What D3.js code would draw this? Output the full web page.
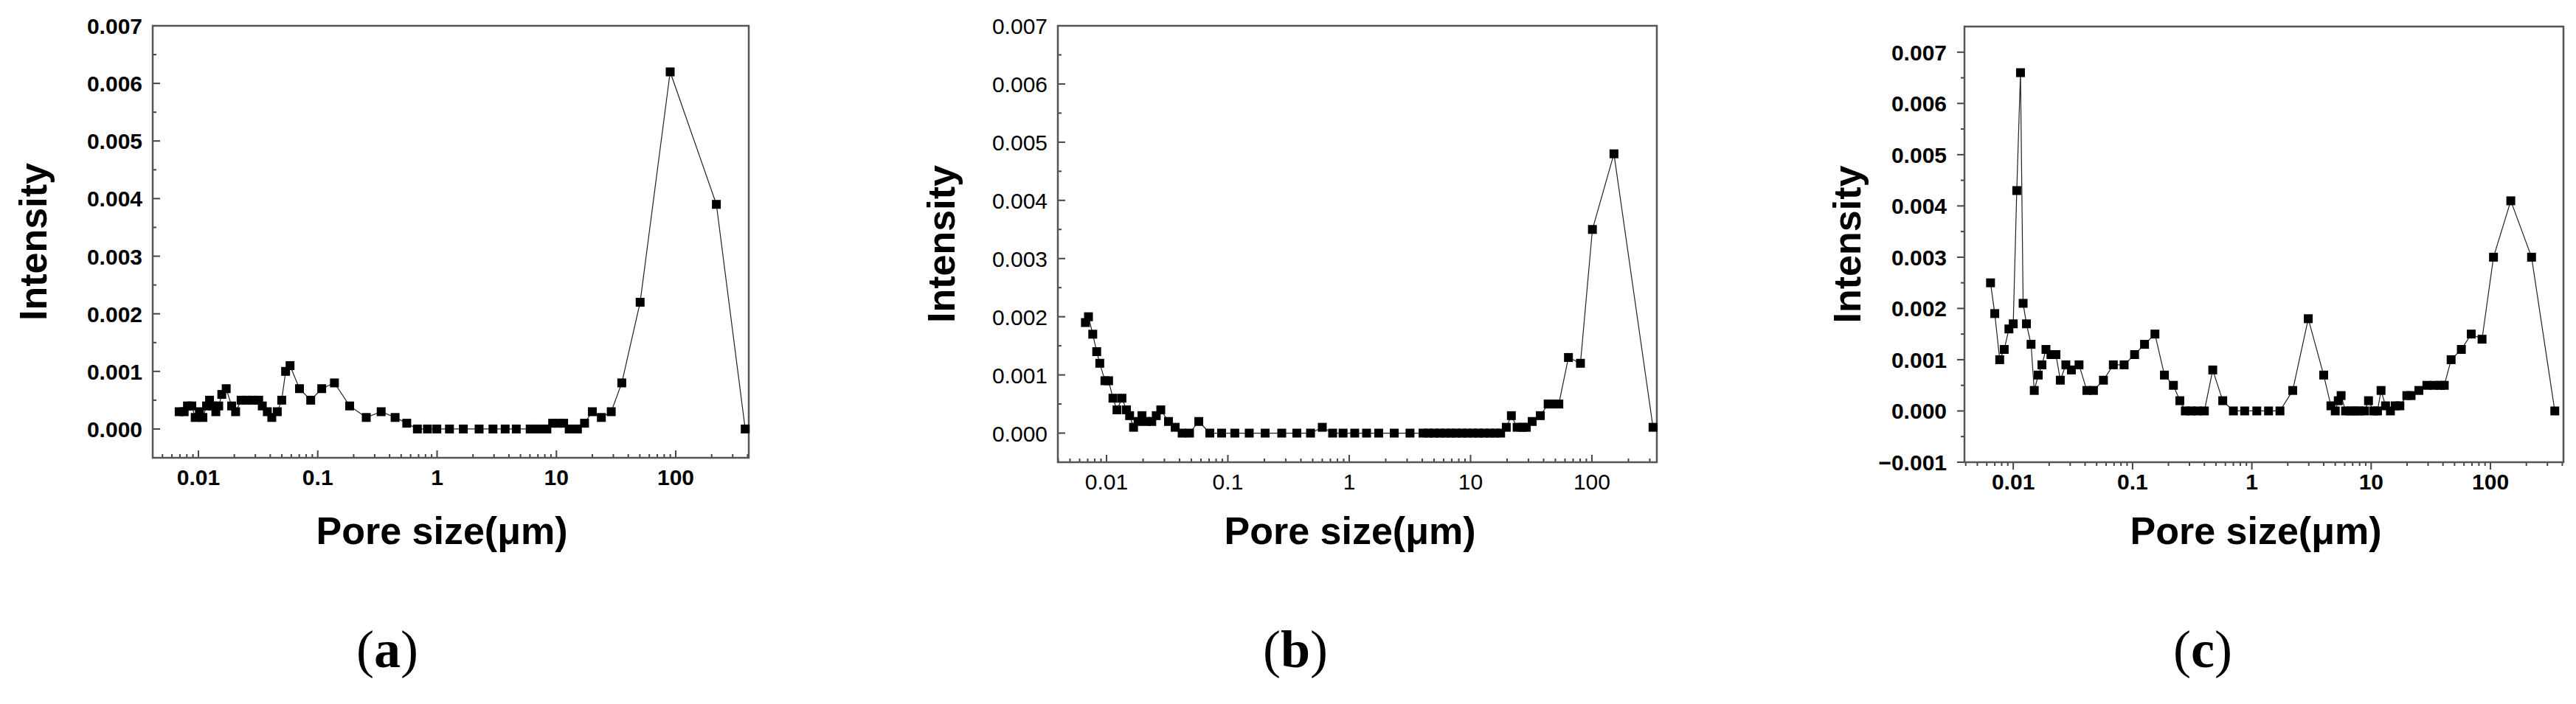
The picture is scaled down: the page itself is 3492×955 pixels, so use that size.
<!DOCTYPE html>
<html>
<head>
<meta charset="utf-8">
<script src="https://cdn.jsdelivr.net/npm/d3@7"></script>
<style>
  body { margin: 0; background: #fff; }
  svg { display: block; }
</style>
</head>
<body>
<svg id="chart" width="3492" height="955"></svg>
<script>
// pore size (um) and intensity
const sizesA = [0.0069,0.0076,0.0081,0.0088,0.0094,0.0102,0.0109,0.0117,0.0124,0.0132,0.014,0.0148,0.0157,0.0171,0.019,0.0205,0.0228,0.0255,0.0285,0.032,0.0343,0.0378,0.0412,0.0458,0.0499,0.0538,0.0586,0.0703,0.0873,0.108,0.138,0.185,0.255,0.34,0.445,0.557,0.684,0.83,0.995,1.27,1.66,2.25,2.94,3.72,4.61,6.03,7.08,8.32,9.3,10.3,11.5,12.8,15,17.2,20,23.8,28.8,35.3,50.3,89.8,219,382]
const intensA = [0.0003,0.0003,0.0004,0.0004,0.0002,0.0003,0.0002,0.0004,0.0005,0.0004,0.0003,0.0004,0.0006,0.0007,0.0004,0.0003,0.0005,0.0005,0.0005,0.0005,0.0004,0.0003,0.0002,0.0003,0.0005,0.001,0.0011,0.0007,0.0005,0.0007,0.0008,0.0004,0.0002,0.0003,0.0002,0.0001,0,0,0,0,0,0,0,0,0,0,0,0,0.0001,0.0001,0.0001,0,0,0.0001,0.0003,0.0002,0.0003,0.0008,0.0022,0.0062,0.0039,0]

const sizesB = [0.0067,0.0071,0.0077,0.0083,0.0088,0.0097,0.0104,0.0113,0.0122,0.0134,0.0146,0.0155,0.0167,0.0182,0.0196,0.0213,0.0236,0.0257,0.028,0.0324,0.0368,0.042,0.0483,0.0576,0.071,0.0888,0.114,0.15,0.203,0.278,0.37,0.48,0.6,0.73,0.89,1.11,1.39,1.75,2.35,3.17,4.06,4.52,5.0,5.55,6.2,6.9,7.6,8.5,9.4,10.5,11.6,12.9,14.4,16.0,17.7,19.7,21.7,24.2,26.8,28.8,32.2,37.6,43.6,48.1,53.4,64.1,80.5,101,152,319]
const intensB = [0.0019,0.002,0.0017,0.0014,0.0012,0.0009,0.0009,0.0006,0.0004,0.0006,0.0004,0.0003,0.0001,0.0002,0.0003,0.0002,0.0002,0.0003,0.0004,0.0002,0.0001,0,0,0.0002,0,0,0,0,0,0,0,0,0.0001,0,0,0,0,0,0,0,0,0,0,0,0,0,0,0,0,0,0,0,0,0,0,0.0001,0.0003,0.0001,0.0001,0.0001,0.0002,0.0003,0.0005,0.0005,0.0005,0.0013,0.0012,0.0035,0.0048,0.0001]

const sizesC = [0.00645,0.007,0.0077,0.0084,0.0092,0.01,0.0107,0.0115,0.0121,0.0129,0.0141,0.015,0.0162,0.0174,0.0188,0.0207,0.0228,0.0248,0.0276,0.0307,0.0356,0.0414,0.047,0.057,0.069,0.085,0.104,0.126,0.154,0.185,0.22,0.249,0.277,0.31,0.35,0.4,0.47,0.57,0.7,0.87,1.1,1.38,1.72,2.2,2.97,4.0,4.6,5.0,5.3,5.6,6.1,6.7,7.3,7.9,8.8,9.5,10.5,11.3,12.1,13.2,14.5,15.9,17.4,19.9,21.6,25.1,29.3,33.6,38,41,46.8,57,69,85,106,148,221,346]
const intensC = [0.0025,0.0019,0.001,0.0012,0.0016,0.0017,0.0043,0.0066,0.0021,0.0017,0.0013,0.0004,0.0007,0.0009,0.0012,0.0011,0.0011,0.0006,0.0009,0.0008,0.0009,0.0004,0.0004,0.0006,0.0009,0.0009,0.0011,0.0013,0.0015,0.0007,0.0005,0.0002,0,0,0,0,0.0008,0.0002,0,0,0,0,0,0.0004,0.0018,0.0007,0.0001,0,0.0002,0.0003,0,0,0,0,0,0.0002,0,0,0.0004,0.0001,0,0.0001,0.0001,0.0003,0.0003,0.0004,0.0005,0.0005,0.0005,0.0005,0.001,0.0012,0.0015,0.0014,0.003,0.0041,0.003,0]

const xTicks = [0.01, 0.1, 1, 10, 100]
const yTicksAB = [0, 0.001, 0.002, 0.003, 0.004, 0.005, 0.006, 0.007]
const yTicksC = [-0.001, 0, 0.001, 0.002, 0.003, 0.004, 0.005, 0.006, 0.007]
const panelLabels = ['a', 'b', 'c']

const panels = [
  { sizes: sizesA, vals: intensA, box: [207, 35, 1015, 621], xDom: [0.00414, 409], yDom: [-0.0005, 0.007], yTicks: yTicksAB, bold: true, inward: true, yTitleX: 45, xTitleX: 599, tagX: 525 },
  { sizes: sizesB, vals: intensB, box: [1434, 35, 2246, 627], xDom: [0.00397, 343], yDom: [-0.0005, 0.007], yTicks: yTicksAB, bold: false, inward: true, yTitleX: 1276, xTitleX: 1830, tagX: 1756 },
  { sizes: sizesC, vals: intensC, box: [2663, 36, 3475, 627], xDom: [0.0039, 409], yDom: [-0.001, 0.0075], yTicks: yTicksC, bold: true, inward: false, yTitleX: 2504, xTitleX: 3058, tagX: 2986 }
]

const svg = d3.select('#chart')
const font = 'Liberation Sans, Arial, sans-serif'

panels.forEach((p, i) => {
  const [x0, y0, x1, y1] = p.box
  const x = d3.scaleLog().domain(p.xDom).range([x0, x1])
  const y = d3.scaleLinear().domain(p.yDom).range([y1, y0])
  const g = svg.append('g')
  const dir = p.inward ? 1 : -1

  // minor ticks
  const minorX = []
  for (let e = -3; e <= 2; e++) for (let k = 2; k <= 9; k++) {
    const v = k * Math.pow(10, e)
    if (v > p.xDom[0] && v < p.xDom[1]) minorX.push(v)
  }
  g.selectAll('.mx').data(minorX).join('line')
    .attr('x1', d => x(d)).attr('x2', d => x(d))
    .attr('y1', y1).attr('y2', y1 - dir * 5)
    .attr('stroke', '#444').attr('stroke-width', 2)
  g.selectAll('.Mx').data(xTicks).join('line')
    .attr('x1', d => x(d)).attr('x2', d => x(d))
    .attr('y1', y1).attr('y2', y1 - dir * 10)
    .attr('stroke', '#444').attr('stroke-width', 2)
  const minorY = p.yTicks.slice(0, -1).map(d => d + 0.0005)
  g.selectAll('.my').data(minorY).join('line')
    .attr('x1', x0).attr('x2', x0 + dir * 5)
    .attr('y1', d => y(d)).attr('y2', d => y(d))
    .attr('stroke', '#444').attr('stroke-width', 2)
  g.selectAll('.My').data(p.yTicks).join('line')
    .attr('x1', x0).attr('x2', x0 + dir * 10)
    .attr('y1', d => y(d)).attr('y2', d => y(d))
    .attr('stroke', '#444').attr('stroke-width', 2)

  // frame
  g.append('rect').attr('x', x0).attr('y', y0)
    .attr('width', x1 - x0).attr('height', y1 - y0)
    .attr('fill', 'none').attr('stroke', '#555').attr('stroke-width', 2.5)

  // tick labels
  g.selectAll('.xl').data(xTicks).join('text')
    .attr('x', d => x(d)).attr('y', y1 + 37)
    .attr('text-anchor', 'middle')
    .attr('font-family', font).attr('font-size', 30)
    .attr('font-weight', p.bold ? 'bold' : 'normal')
    .text(d => d3.format('~g')(d))
  g.selectAll('.yl').data(p.yTicks).join('text')
    .attr('x', x0 - (p.inward ? 14 : 24)).attr('y', d => y(d) + 11)
    .attr('text-anchor', 'end')
    .attr('font-family', font).attr('font-size', 30)
    .attr('font-weight', p.bold ? 'bold' : 'normal')
    .text(d => d3.format('.3f')(d))

  // data line and squares
  const pts = p.sizes.map((s, k) => [s, p.vals[k]])
  g.append('path').datum(pts)
    .attr('fill', 'none').attr('stroke', '#222').attr('stroke-width', 1.2)
    .attr('d', d3.line().x(d => x(d[0])).y(d => y(d[1])))
  g.selectAll('.pt').data(pts).join('rect')
    .attr('x', d => x(d[0]) - 6).attr('y', d => y(d[1]) - 6)
    .attr('width', 12).attr('height', 12).attr('fill', '#000')

  // axis titles
  g.append('text')
    .attr('transform', `translate(${p.yTitleX + 18},${(y0 + y1) / 2}) rotate(-90)`)
    .attr('text-anchor', 'middle')
    .attr('font-family', font).attr('font-size', 52).attr('font-weight', 'bold')
    .text('Intensity')
  g.append('text')
    .attr('x', p.xTitleX).attr('y', 738)
    .attr('text-anchor', 'middle')
    .attr('font-family', font).attr('font-size', 52).attr('font-weight', 'bold')
    .text('Pore size(μm)')

  // panel tag
  const tag = g.append('text')
    .attr('x', p.tagX).attr('y', 905)
    .attr('text-anchor', 'middle')
    .attr('font-family', 'Liberation Serif, Times New Roman, serif').attr('font-size', 72)
  tag.append('tspan').text('(')
  tag.append('tspan').attr('font-weight', 'bold').text(panelLabels[i])
  tag.append('tspan').text(')')
})
</script>
</body>
</html>
